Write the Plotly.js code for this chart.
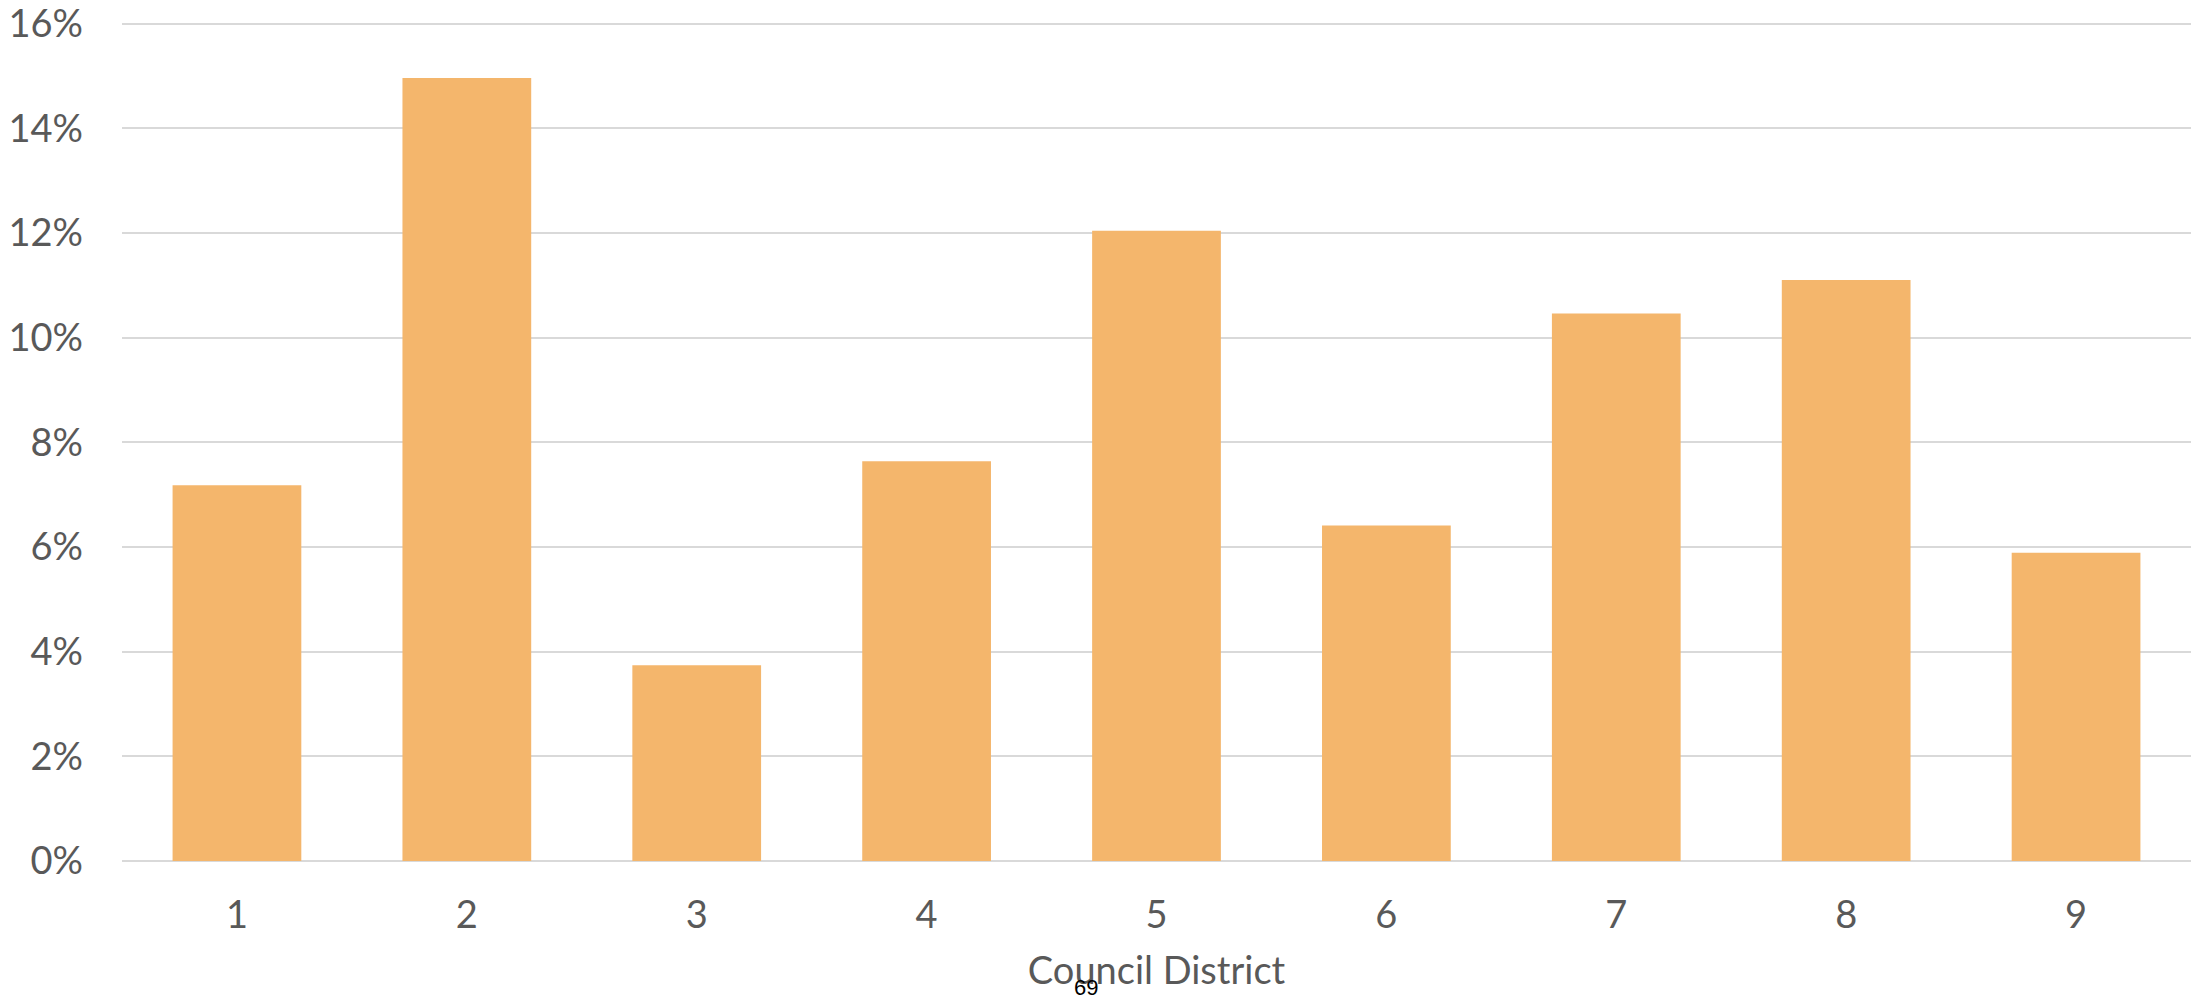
<!DOCTYPE html>
<html>
<head>
<meta charset="utf-8">
<script src="https://cdn.plot.ly/plotly-3.0.1.min.js"></script>
<style>
  html, body { margin: 0; padding: 0; background: #fff; }
  #chart { width: 2203px; height: 1002px; }
</style>
</head>
<body>
<div id="chart"></div>
<script>
const districts = ["1", "2", "3", "4", "5", "6", "7", "8", "9"];
const shares = [0.0718, 0.1496, 0.0374, 0.0764, 0.1204, 0.0641, 0.1046, 0.1110, 0.0589];
const yTicks = [0, 0.02, 0.04, 0.06, 0.08, 0.10, 0.12, 0.14, 0.16];
const xTitle = "Council District";
const pageNumber = "69";

const trace = {
  type: "bar",
  x: districts,
  y: shares,
  marker: { color: "#F4B66C", line: { width: 0 } },
  hoverinfo: "x+y"
};

const layout = {
  width: 2203,
  height: 1002,
  paper_bgcolor: "#ffffff",
  plot_bgcolor: "#ffffff",
  margin: { l: 122, r: 12, t: 22, b: 141 },
  bargap: 0.44,
  showlegend: false,
  font: { family: "Lato, 'Open Sans', sans-serif", color: "#595959" },
  xaxis: {
    type: "category",
    showgrid: false,
    showline: false,
    ticks: "",
    tickfont: { size: 38, color: "#595959" },
    ticklabelstandoff: 28,
    title: { text: xTitle, font: { size: 38, color: "#595959" }, standoff: 22 },
    automargin: false
  },
  yaxis: {
    range: [0, 0.1603],
    tickvals: yTicks,
    tickformat: ".0%",
    showgrid: true,
    gridcolor: "#d9d9d9",
    gridwidth: 2,
    zeroline: true,
    zerolinecolor: "#d9d9d9",
    zerolinewidth: 2,
    showline: false,
    ticks: "",
    ticklabelstandoff: 38,
    ticklabeloverflow: "allow",
    tickfont: { size: 38, color: "#595959" },
    automargin: false
  },
  annotations: [{
    text: pageNumber,
    xref: "paper", yref: "paper",
    x: 0.466, y: -0.1681,
    xanchor: "center", yanchor: "bottom",
    showarrow: false,
    font: { family: "Arial, 'Liberation Sans', sans-serif", size: 22, color: "#000000" }
  }]
};

Plotly.newPlot("chart", [trace], layout, { displayModeBar: false, staticPlot: true });
</script>
</body>
</html>
